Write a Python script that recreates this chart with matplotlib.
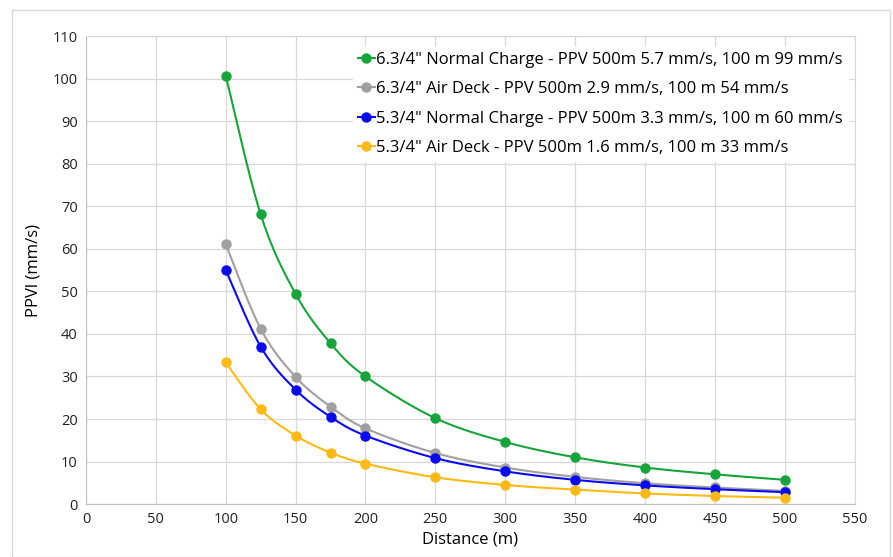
import numpy as np
import matplotlib
matplotlib.use("Agg")
from matplotlib import pyplot as plt

plt.rcParams['font.family'] = ['Open Sans', 'DejaVu Sans']

distance = [100, 125, 150, 175, 200, 250, 300, 350, 400, 450, 500]
green_vals = [100.7, 68.1, 49.4, 37.8, 30.0, 20.2, 14.6, 11.0, 8.6, 7.0, 5.7]
gray_vals = [61.1, 41.2, 29.9, 22.9, 17.8, 12.0, 8.6, 6.4, 4.9, 3.9, 3.1]
blue_vals = [55.0, 37.0, 26.9, 20.5, 16.1, 10.8, 7.7, 5.7, 4.4, 3.5, 2.8]
orange_vals = [33.3, 22.3, 16.1, 12.1, 9.5, 6.3, 4.5, 3.4, 2.5, 1.9, 1.5]

labels = [
    '6.3/4" Normal Charge - PPV 500m 5.7 mm/s, 100 m 99 mm/s',
    '6.3/4" Air Deck - PPV 500m 2.9 mm/s, 100 m 54 mm/s',
    '5.3/4" Normal Charge - PPV 500m 3.3 mm/s, 100 m 60 mm/s',
    '5.3/4" Air Deck - PPV 500m 1.6 mm/s, 100 m 33 mm/s',
]
colors = ['#17A43B', '#A0A0A0', '#0A0AF0', '#FFB914']


def smooth(x, y, n=30):
    # catmull-rom curve through the points, like excel "smoothed line"
    x = np.asarray(x, float)
    y = np.asarray(y, float)
    px = np.concatenate([[x[0]], x, [x[-1]]])
    py = np.concatenate([[y[0]], y, [y[-1]]])
    xs, ys = [], []
    t = np.linspace(0, 1, n)
    h00 = 2 * t**3 - 3 * t**2 + 1
    h10 = t**3 - 2 * t**2 + t
    h01 = -2 * t**3 + 3 * t**2
    h11 = t**3 - t**2
    for i in range(1, len(px) - 2):
        for p, out in ((px, xs), (py, ys)):
            p0, p1, p2, p3 = p[i - 1], p[i], p[i + 1], p[i + 2]
            m1 = (p2 - p0) / 2
            m2 = (p3 - p1) / 2
            out.append(h00 * p1 + h10 * m1 + h01 * p2 + h11 * m2)
    return np.concatenate(xs), np.concatenate(ys)


fig = plt.figure(figsize=(8.93, 5.57), dpi=100)
ax = fig.add_axes([0.0963, 0.095, 0.8607, 0.84])

series = [green_vals, gray_vals, blue_vals, orange_vals]
for vals, lab, c in zip(series, labels, colors):
    sx, sy = smooth(distance, vals)
    ax.plot(sx, sy, color=c, lw=1.5, zorder=3)
    ax.plot(distance, vals, 'o', color=c, ms=6.5, zorder=4)
    ax.plot([], [], '-o', color=c, lw=1.5, ms=6.5, label=lab)

ax.set_xlim(0, 550)
ax.set_ylim(0, 110)
ax.set_xticks(np.arange(0, 551, 50))
ax.set_yticks(np.arange(0, 111, 10))
ax.grid(True, color='#D9D9D9', lw=0.9)
ax.set_axisbelow(True)
for s in ['top', 'right']:
    ax.spines[s].set_color('#D9D9D9')
for s in ['left', 'bottom']:
    ax.spines[s].set_color('#BFBFBF')
ax.tick_params(length=0, labelsize=10.5, colors='#222222', pad=6)
ax.set_xlabel('Distance (m)', fontsize=12, labelpad=3)
ax.set_ylabel('PPVl (mm/s)', fontsize=12, labelpad=8)

leg = ax.legend(loc='upper right', bbox_to_anchor=(1.002, 0.995), fontsize=12,
                frameon=True, fancybox=False, edgecolor='white', framealpha=1,
                handlelength=1.0, handletextpad=0.1, labelspacing=0.8,
                borderpad=0.3)

fig.patches.append(plt.Rectangle((0.013, 0.0), 0.984, 0.982, transform=fig.transFigure,
                                 fill=False, edgecolor='#D9D9D9', lw=1))

fig.savefig('out.png', dpi=100)
